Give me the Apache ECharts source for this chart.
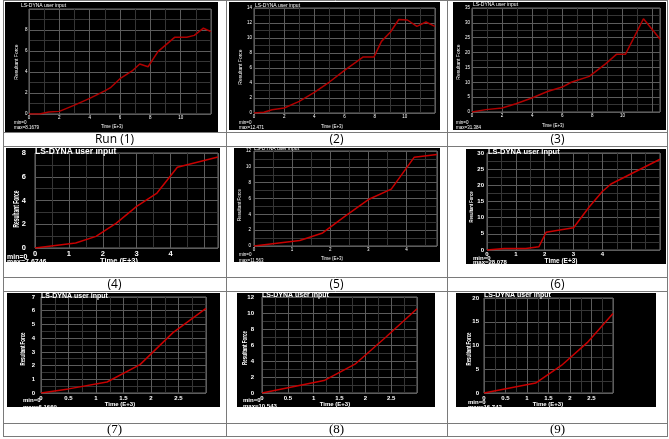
<!DOCTYPE html>
<html>
<head>
<meta charset="utf-8">
<script src="https://cdn.jsdelivr.net/npm/echarts@6/dist/echarts.min.js"></script>
<style>
html, body { margin: 0; padding: 0; background: #fff; }
#main { width: 669px; height: 439px; }
</style>
</head>
<body>
<div id="main"></div>
<script>
// Time (E+3) / Resultant Force for each run
var run1Time = [0, 0.7, 1.3, 2, 3, 4, 5, 5.4, 6, 6.8, 7.3, 7.85, 8.5, 9.6, 10.4, 10.9, 11.5, 12];
var run1Force = [0, 0, 0.19, 0.25, 0.85, 1.49, 2.2, 2.54, 3.36, 4.1, 4.76, 4.5, 5.94, 7.3, 7.3, 7.49, 8.17, 7.84];
var run2Time = [0, 0.66, 1.2, 2, 3, 4, 5, 6, 6.74, 7.22, 7.95, 8.45, 9.05, 9.6, 10.17, 10.8, 11.4, 12];
var run2Force = [0, 0.09, 0.44, 0.67, 1.55, 2.75, 4.13, 5.68, 6.75, 7.46, 7.46, 9.55, 10.8, 12.47, 12.4, 11.55, 12.13, 11.55];
var run3Time = [0, 0.93, 2, 2.92, 3.98, 5.02, 6, 6.6, 7.8, 8.9, 9.6, 10.2, 11.4, 12.5];
var run3Force = [0, 0.8, 1.35, 2.8, 4.7, 6.9, 8.4, 10, 12, 16.3, 19.4, 19.4, 31.38, 24.6];
var run4Time = [0, 1.2, 1.8, 2.4, 3.0, 3.6, 4.2, 5.4];
var run4Force = [0, 0.42, 0.98, 2.1, 3.5, 4.63, 6.8, 7.67];
var run5Time = [0, 1.2, 1.8, 2.4, 3.0, 3.6, 4.2, 4.8];
var run5Force = [0, 0.7, 1.65, 3.8, 5.87, 7.18, 11.2, 11.56];
var run6Time = [0, 0.6, 1.35, 1.8, 2.05, 3.0, 3.55, 4.0, 4.3, 6.0];
var run6Force = [0, 0.5, 0.5, 1.0, 5.5, 6.9, 13.4, 18.1, 20.4, 28.08];
var run7Time = [0, 0.5, 1.2, 1.8, 2.4, 3.0];
var run7Force = [0, 0.3, 0.8, 2.07, 4.4, 6.17];
var run8Time = [0, 1.2, 1.8, 2.4, 3.0];
var run8Force = [0, 1.55, 3.6, 7.0, 10.54];
var run9Time = [0, 1.2, 1.8, 2.4, 3.0];
var run9Force = [0, 2.1, 5.8, 10.6, 16.74];

var runTimes = [run1Time, run2Time, run3Time, run4Time, run5Time, run6Time, run7Time, run8Time, run9Time];
var runForces = [run1Force, run2Force, run3Force, run4Force, run5Force, run6Force, run7Force, run8Force, run9Force];

var captions = ['Run (1)', '(2)', '(3)', '(4)', '(5)', '(6)', '(7)', '(8)', '(9)'];
var maxLabels = ['max=8.1679', 'max=12.471', 'max=31.384', 'max=7.6746', 'max=11.563', 'max=28.078', 'max=6.1669', 'max=10.543', 'max=16.742'];
var titleText = 'LS-DYNA user input';
var xName = 'Time (E+3)';
var yName = 'Resultant Force';

// axis ranges for each plot
var xMaxes = [12, 12, 12.5, 5.4, 4.8, 6, 3, 3, 3];
var xSteps = [2, 2, 2, 1, 1, 1, 0.5, 0.5, 0.5];
var xLastLabel = [10, 10, 10, 4, 4, 4, 2.5, 2.5, 2.5];
var yMaxes = [10, 14, 35, 8, 12, 30, 7, 12, 20];
var ySteps = [2, 2, 5, 2, 2, 5, 1, 2, 5];
var yLastLabel = [8, 14, 35, 8, 12, 30, 7, 12, 20];

// layout of each panel (pixels): bg rect, grid rect, label font, title pos, min/max pos, axis-name pos
var layout = [
	{bg: [5, 2, 213, 130], grid: [29, 9, 182, 105], fs: 4.5, bold: false, lx: 1, ly: 1.5, title: [21, 6, 5], mm: [14, 123, 128, 4.5], yn: [17, 62, 5, 40], xn: [112, 127, 4.5]},
	{bg: [229, 2, 211, 128], grid: [254, 8, 181, 105], fs: 4.5, bold: false, lx: 1, ly: 2, title: [255, 6, 5], mm: [239, 123, 128, 4.5], yn: [241, 67, 5, 41], xn: [332, 127, 4.5]},
	{bg: [453, 2, 213, 128], grid: [472, 8, 188, 104], fs: 4.5, bold: false, lx: 1, ly: 2, title: [473, 5, 5], mm: [456, 123, 128, 4.5], yn: [459, 62, 5, 44], xn: [553, 126, 4.5]},
	{bg: [6, 148, 214, 114], grid: [35, 153, 183, 95], fs: 7.5, bold: true, lx: 2, ly: 9, title: [35, 152, 8.5], mm: [7, 257, 262, 7], yn: [17, 209, 9, 37], xn: [119, 261, 7.5]},
	{bg: [234, 148, 206, 114], grid: [254, 151, 183, 95], fs: 4.5, bold: false, lx: 1, ly: 3, title: [254, 149, 5], mm: [239, 255, 261, 4.5], yn: [240, 205, 4.5, 35], xn: [332, 259, 4.5]},
	{bg: [466, 149, 200, 115], grid: [487, 153, 173, 97], fs: 6, bold: true, lx: 1, ly: 3, title: [488, 152, 7.5], mm: [473, 258, 262, 6], yn: [471, 207, 6, 31], xn: [561, 261, 6.5]},
	{bg: [7, 293, 213, 114], grid: [41, 297, 165, 96], fs: 6, bold: true, lx: 2, ly: 6, title: [41, 296, 7], mm: [23, 400, 407, 6], yn: [23, 349, 7, 33], xn: [120, 404, 6]},
	{bg: [237, 293, 198, 114], grid: [262, 297, 155, 96], fs: 6, bold: true, lx: 2, ly: 8, title: [262, 295, 7], mm: [243, 400, 406, 6], yn: [245, 348, 7, 34], xn: [335, 404, 6]},
	{bg: [456, 293, 200, 114], grid: [484, 298, 129, 95], fs: 6, bold: true, lx: 2, ly: 5, title: [484, 295, 7], mm: [468, 402, 407, 6], yn: [469, 349, 7, 33], xn: [548, 404, 6]}
];

var chart = echarts.init(document.getElementById('main'));
var FONT = '"Liberation Sans", Arial, sans-serif';

// text width helper, used to squeeze the narrow axis titles
var measureCtx = document.createElement('canvas').getContext('2d');
function textWidth(text, font) {
	measureCtx.font = font;
	return measureCtx.measureText(text).width;
}

function label(x, y, text, font, align, vAlign, extra) {
	var el = {
		type: 'text', z: 5, silent: true, x: x, y: y,
		style: {
			text: text, fill: '#fff', font: font,
			textAlign: align, textVerticalAlign: vAlign, align: align, verticalAlign: vAlign
		}
	};
	if (extra) {
		for (var k in extra) el[k] = extra[k];
	}
	return el;
}

var grids = [], xAxes = [], yAxes = [], series = [], graphics = [];

layout.forEach(function(p, i) {
	var weight = p.bold ? 'bold' : 'normal';
	grids.push({
		left: p.grid[0], top: p.grid[1], width: p.grid[2], height: p.grid[3],
		show: true, borderColor: '#6e6e6e', borderWidth: 1, backgroundColor: 'transparent'
	});
	xAxes.push({
		type: 'value', gridIndex: i, min: 0, max: xMaxes[i], interval: xSteps[i],
		axisLine: {show: false}, axisTick: {show: false},
		axisLabel: {
			color: '#fff', fontSize: p.fs, fontWeight: weight, fontFamily: FONT, margin: p.lx,
			formatter: function(v) { return v <= xLastLabel[i] + 1e-9 ? String(v) : ''; }
		},
		splitLine: {show: true, lineStyle: {color: '#5c5c5c', width: 1}},
		minorTick: {show: false, splitNumber: 2},
		minorSplitLine: {show: true, lineStyle: {color: '#353535', width: 1}}
	});
	yAxes.push({
		type: 'value', gridIndex: i, min: 0, max: yMaxes[i], interval: ySteps[i],
		axisLine: {show: false}, axisTick: {show: false},
		axisLabel: {
			color: '#fff', fontSize: p.fs, fontWeight: weight, fontFamily: FONT, margin: p.ly,
			formatter: function(v) { return v <= yLastLabel[i] + 1e-9 ? String(v) : ''; }
		},
		splitLine: {show: true, lineStyle: {color: '#5c5c5c', width: 1}},
		minorTick: {show: false, splitNumber: 2},
		minorSplitLine: {show: true, lineStyle: {color: '#353535', width: 1}}
	});
	series.push({
		type: 'line', xAxisIndex: i, yAxisIndex: i,
		showSymbol: false, symbol: 'none', silent: true,
		lineStyle: {color: i < 3 ? '#b00000' : '#c80000', width: 1.5},
		data: runTimes[i].map(function(t, k) { return [t, runForces[i][k]]; })
	});

	// black plot panel
	graphics.push({
		type: 'rect', z: -10, silent: true,
		shape: {x: p.bg[0], y: p.bg[1], width: p.bg[2], height: p.bg[3]},
		style: {fill: '#000'}
	});
	graphics.push(label(p.title[0], p.title[1], titleText, weight + ' ' + p.title[2] + 'px ' + FONT, 'left', 'middle'));
	var mmFont = weight + ' ' + p.mm[3] + 'px ' + FONT;
	graphics.push(label(p.mm[0], p.mm[1], 'min=0', mmFont, 'left', 'middle'));
	graphics.push(label(p.mm[0], p.mm[2], maxLabels[i], mmFont, 'left', 'middle'));

	// axis titles
	var ynFont = weight + ' ' + p.yn[2] + 'px ' + FONT;
	var sx = Math.min(1, p.yn[3] / textWidth(yName, ynFont));
	graphics.push(label(p.yn[0], p.yn[1], yName, ynFont, 'center', 'middle', {rotation: Math.PI / 2, scaleX: sx, scaleY: 1}));
	graphics.push(label(p.xn[0], p.xn[1], xName, weight + ' ' + p.xn[2] + 'px ' + FONT, 'center', 'middle'));
});

// table borders
var colX = [3.5, 226.5, 447.5, 667.5];
var rowY = [0.5, 132.5, 146.5, 277.5, 291.5, 423.5, 436.5];
colX.forEach(function(x) {
	graphics.push({type: 'line', z: 6, silent: true, shape: {x1: x, y1: 0, x2: x, y2: 436.5}, style: {stroke: '#7a7a7a', lineWidth: 1}});
});
rowY.forEach(function(y) {
	graphics.push({type: 'line', z: 6, silent: true, shape: {x1: 3, y1: y, x2: 668, y2: y}, style: {stroke: '#7a7a7a', lineWidth: 1}});
});

// captions under each plot
var capCenters = [114.5, 336.5, 557.5];
var capRows = [140, 285, 430];
captions.forEach(function(c, i) {
	var serif = i >= 6;
	graphics.push({
		type: 'text', z: 6, silent: true, x: capCenters[i % 3], y: capRows[Math.floor(i / 3)],
		style: {
			text: c, fill: '#000',
			font: serif ? '13px "Liberation Serif", serif' : '12px "Open Sans", "Liberation Sans", sans-serif',
			textAlign: 'center', textVerticalAlign: 'middle', align: 'center', verticalAlign: 'middle'
		}
	});
});

chart.setOption({
	animation: false,
	backgroundColor: '#fff',
	grid: grids,
	xAxis: xAxes,
	yAxis: yAxes,
	series: series,
	graphic: {elements: graphics}
});
</script>
</body>
</html>
